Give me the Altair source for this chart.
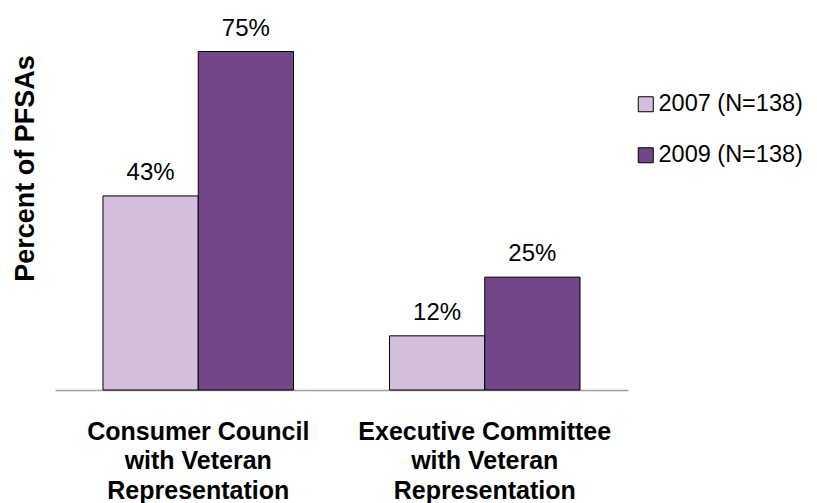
import altair as alt
import pandas as pd

categories = [
    "Consumer Council\nwith Veteran\nRepresentation",
    "Executive Committee\nwith Veteran\nRepresentation",
]
years = ["2007 (N=138)", "2009 (N=138)"]
values_2007 = [43, 12]
values_2009 = [75, 25]
colors = ["#D3BFDC", "#73468A"]

rows = []
for cat, v07, v09 in zip(categories, values_2007, values_2009):
    rows.append({"category": cat, "year": years[0], "value": v07, "label": f"{v07}%"})
    rows.append({"category": cat, "year": years[1], "value": v09, "label": f"{v09}%"})
df = pd.DataFrame(rows)

FONT = "Liberation Sans"

base = alt.Chart(df).encode(
    x=alt.X(
        "category:N",
        sort=categories,
        scale=alt.Scale(paddingInner=0.335, paddingOuter=0.1675),
        axis=alt.Axis(
            title=None,
            labelExpr="split(datum.label, '\\n')",
            labelFont=FONT,
            labelFontSize=25,
            labelFontWeight="bold",
            labelColor="black",
            labelLineHeight=29.5,
            labelPadding=29,
            labelLimit=400,
            labelAngle=0,
            ticks=False,
            domainColor="#a0a0a0",
            domainWidth=1.5,
        ),
    ),
    xOffset=alt.XOffset("year:N", sort=years),
    y=alt.Y(
        "value:Q",
        scale=alt.Scale(domain=[0, 75], nice=False, zero=True),
        axis=alt.Axis(
            title="Percent of PFSAs",
            labels=False,
            ticks=False,
            domain=False,
            grid=False,
            titleFont=FONT,
            titleFontSize=27,
            titleFontWeight="bold",
            titleColor="black",
            titleX=-22,
            titleY=116.5,
            titleAngle=270,
            titleBaseline="alphabetic",
            titleAlign="center",
        ),
    ),
)

bars = base.mark_bar(stroke="black", strokeWidth=1).encode(
    color=alt.Color(
        "year:N",
        sort=years,
        scale=alt.Scale(domain=years, range=colors),
        legend=alt.Legend(
            title=None,
            orient="none",
            legendX=579,
            legendY=41,
            symbolType="square",
            symbolSize=225,
            symbolStrokeColor="black",
            symbolStrokeWidth=1,
            symbolOpacity=1,
            labelFont=FONT,
            labelFontSize=23.5,
            labelColor="black",
            labelOffset=1,
            rowPadding=26,
            labelLimit=300,
        ),
    )
)

text = base.mark_text(
    baseline="alphabetic", dy=-16, fontSize=24, font=FONT, color="black"
).encode(text="label:N")

chart = (
    alt.layer(bars, text)
    .properties(
        width=573,
        height=338.5,
        padding={"left": 47, "top": 43.5, "right": 181, "bottom": 113},
        autosize=alt.AutoSizeParams(type="none"),
    )
    .configure_view(stroke=None)
)

chart.save("out.html", embed_options={"renderer": "svg", "actions": False})
